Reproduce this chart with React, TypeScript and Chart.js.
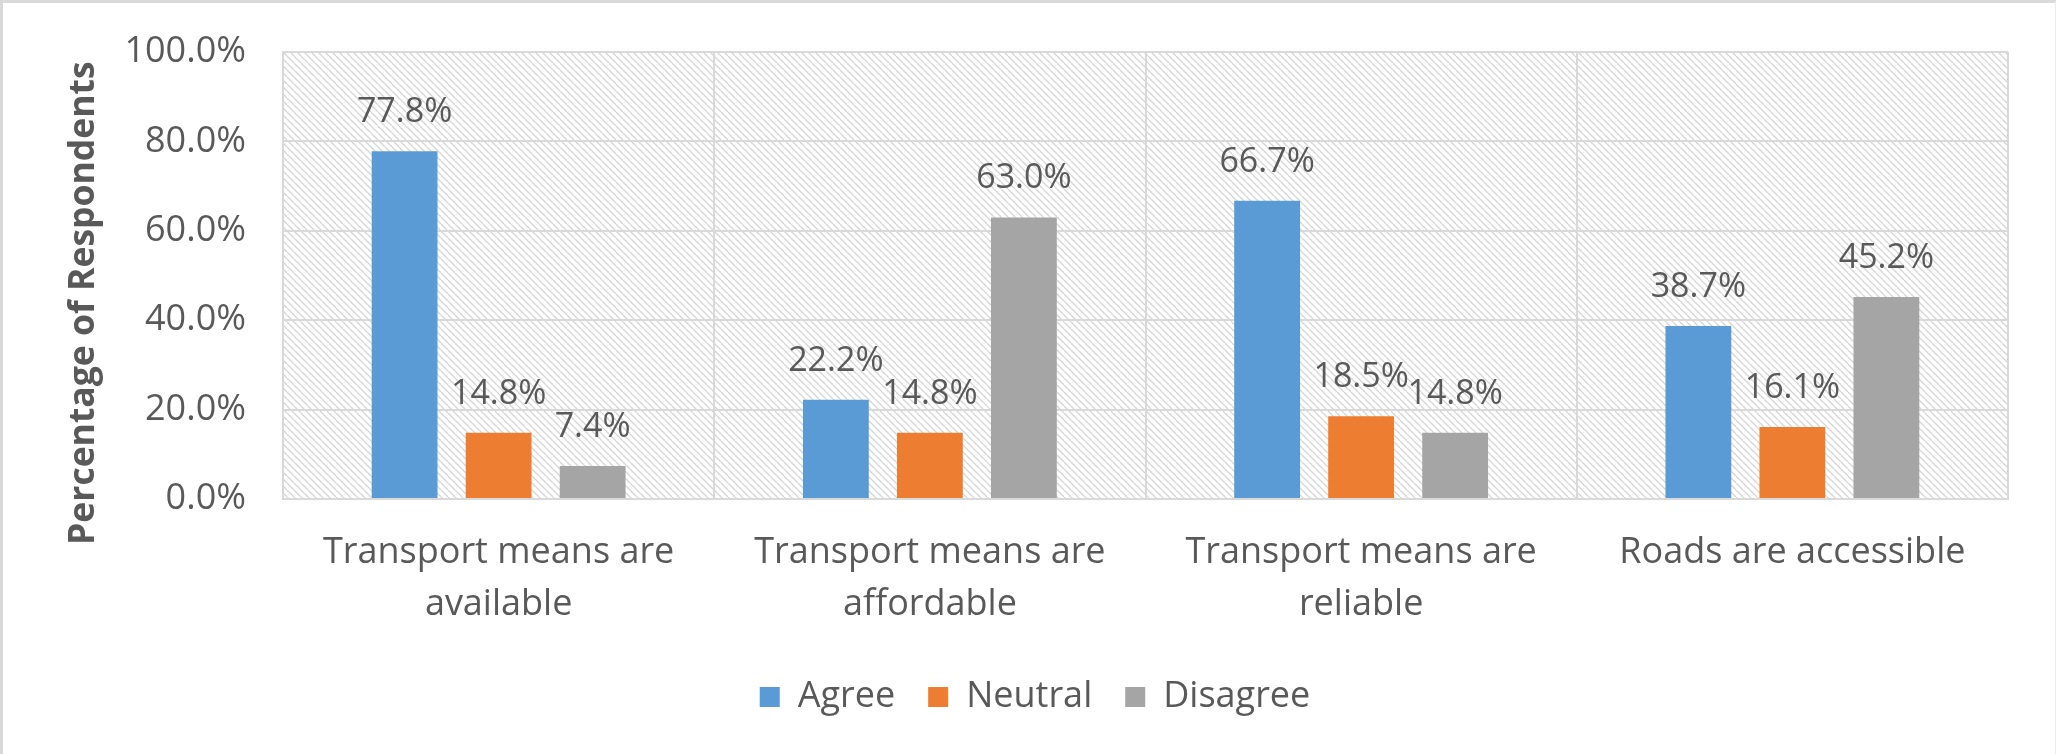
// App.tsx

import { Chart, registerables } from "chart.js";
import React, { useEffect, useRef } from "react";

Chart.register(...registerables);

const categories = [
  ["Transport means are", "available"],
  ["Transport means are", "affordable"],
  ["Transport means are", "reliable"],
  ["Roads are accessible"],
];
const seriesNames = ["Agree", "Neutral", "Disagree"];
const agree = [77.8, 22.2, 66.7, 38.7];
const neutral = [14.8, 14.8, 18.5, 16.1];
const disagree = [7.4, 63.0, 14.8, 45.2];
const yTicks = [0, 20, 40, 60, 80, 100];

const colors = ["#5B9BD5", "#ED7D31", "#A5A5A5"];
const textColor = "#595959";
const gridColor = "#D9D9D9";
const fontFamily = "'Open Sans', 'Noto Sans', sans-serif";

const makeHatch = (ctx: CanvasRenderingContext2D) => {
  const s = 7;
  const tile = document.createElement("canvas");
  tile.width = s;
  tile.height = s;
  const t = tile.getContext("2d")!;
  t.fillStyle = "#ffffff";
  t.fillRect(0, 0, s, s);
  t.strokeStyle = "#D6D6D6";
  t.lineWidth = 1.3;
  for (const x of [-s, 0, s]) {
    t.beginPath();
    t.moveTo(x, 0);
    t.lineTo(x + s, s);
    t.stroke();
  }
  return ctx.createPattern(tile, "repeat");
};

// hatched plot background
const hatchPlugin = {
  id: "hatch",
  beforeDraw(chart: Chart) {
    const { ctx, chartArea } = chart;
    const pattern = makeHatch(ctx);
    if (!pattern) return;
    ctx.save();
    ctx.fillStyle = pattern;
    ctx.fillRect(chartArea.left, chartArea.top, chartArea.right - chartArea.left, chartArea.bottom - chartArea.top);
    ctx.restore();
  },
};

// value labels above the bars
const valueLabels = {
  id: "valueLabels",
  afterDatasetsDraw(chart: Chart) {
    const { ctx } = chart;
    ctx.save();
    ctx.font = `34px ${fontFamily}`;
    ctx.fillStyle = textColor;
    ctx.textAlign = "center";
    ctx.textBaseline = "alphabetic";
    chart.data.datasets.forEach((ds, i) => {
      const meta = chart.getDatasetMeta(i);
      meta.data.forEach((bar, j) => {
        const v = ds.data[j] as number;
        ctx.fillText(v.toFixed(1) + "%", bar.x, bar.y - 29);
      });
    });
    ctx.restore();
  },
};

const BarChart: React.FC = () => {
  const canvasRef = useRef<HTMLCanvasElement | null>(null);
  const chartRef = useRef<Chart | null>(null);

  useEffect(() => {
    document.body.style.margin = "0";
    if (!canvasRef.current) return;
    if (chartRef.current) chartRef.current.destroy();
    const ctx = canvasRef.current.getContext("2d");
    if (!ctx) return;

    const series = [agree, neutral, disagree];

    chartRef.current = new Chart(ctx, {
      type: "bar",
      data: {
        labels: categories,
        datasets: series.map((data, i) => ({
          label: seriesNames[i],
          data,
          backgroundColor: colors[i],
          borderColor: colors[i],
          borderWidth: 0,
          categoryPercentage: 0.654,
          barPercentage: 0.7,
        })),
      },
      options: {
        responsive: false,
        animation: false,
        devicePixelRatio: 1,
        layout: { padding: { top: 52, left: 62, right: 48, bottom: 29 } },
        plugins: {
          tooltip: { enabled: false },
          legend: {
            position: "bottom",
            labels: {
              boxWidth: 20,
              boxHeight: 20,
              padding: 33,
              color: textColor,
              font: { family: fontFamily, size: 36 },
            },
          },
        },
        scales: {
          x: {
            grid: { color: gridColor, lineWidth: 2, drawTicks: false, offset: true },
            border: { color: gridColor, width: 2 },
            ticks: {
              color: textColor,
              padding: 28,
              maxRotation: 0,
              autoSkip: false,
              font: { family: fontFamily, size: 36, lineHeight: 1.44 },
            },
            afterFit: (scale) => {
              scale.height = 147;
            },
          },
          y: {
            min: yTicks[0],
            max: yTicks[yTicks.length - 1],
            grid: { color: gridColor, lineWidth: 2, drawTicks: false },
            border: { color: gridColor, width: 2 },
            ticks: {
              stepSize: yTicks[1] - yTicks[0],
              color: textColor,
              padding: 37,
              font: { family: fontFamily, size: 36 },
              callback: (v) => Number(v).toFixed(1) + "%",
            },
            title: {
              display: true,
              // trailing spaces push the visible text a little below the plot centre, as in the original
              text: "Percentage of Respondents      ",
              color: textColor,
              padding: { top: 1, bottom: 0 },
              font: { family: fontFamily, size: 35.5, weight: "bold" },
            },
            afterFit: (scale) => {
              scale.width = 221;
              // tick padding would otherwise push the plot top down
              scale.paddingTop = 0;
              scale.paddingBottom = 0;
            },
          },
        },
      },
      plugins: [hatchPlugin, valueLabels],
    });

    return () => {
      if (chartRef.current) {
        chartRef.current.destroy();
        chartRef.current = null;
      }
    };
  }, []);

  return <canvas ref={canvasRef} width={2056} height={754} />;
};

export default function App() {
  return (
    <div style={{ position: "relative", width: 2056, height: 754, background: "#ffffff" }}>
      <BarChart />
      <div
        style={{
          position: "absolute",
          inset: 0,
          borderTop: "3px solid #D9D9D9",
          borderLeft: "3px solid #D9D9D9",
          borderRight: "1px solid #EDEDED",
          pointerEvents: "none",
        }}
      />
    </div>
  );
}
